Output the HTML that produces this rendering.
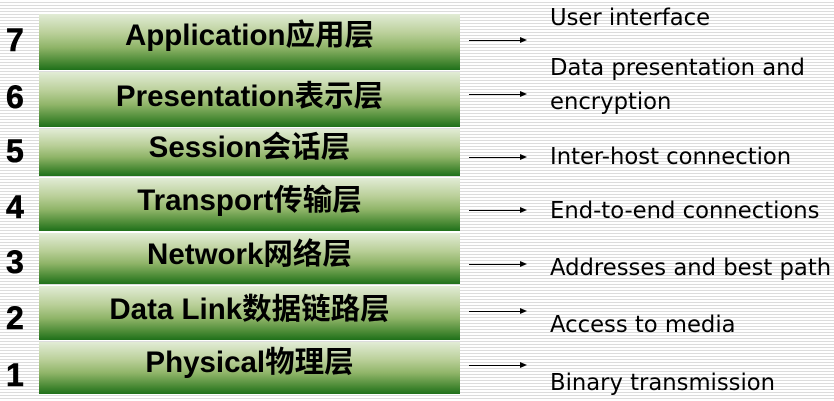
<!DOCTYPE html>
<html><head><meta charset="utf-8"><style>
body{margin:0;width:834px;height:401px;overflow:hidden;position:relative;
background:repeating-linear-gradient(to bottom,#fff 0px,#fff 2px,#dcdcdc 2px,#dcdcdc 3px);
font-family:"Liberation Sans","Noto Sans CJK SC",sans-serif;}
.box{position:absolute;left:39px;width:421px;
background:linear-gradient(to bottom,#e2ecd6 0%,#b9cf98 35%,#8fb468 60%,#4a8a35 85%,#1f701a 100%);
text-align:center;font-weight:bold;font-size:29.5px;line-height:34px;color:#000;}
.box span{position:relative;top:5px;display:block;}
.n{position:absolute;left:6px;font-weight:bold;font-size:32px;line-height:32px;-webkit-text-stroke:0.6px #000;}
.a{position:absolute;left:469px;width:52px;height:1px;background:#000;}
.a:after{content:"";position:absolute;right:-6px;top:-3px;border-left:7px solid #000;border-top:3.5px solid transparent;border-bottom:3.5px solid transparent;}
.t{position:absolute;left:550px;font-family:"DejaVu Sans",sans-serif;font-size:22.7px;line-height:24px;white-space:nowrap;}
</style></head><body>
<div class="box" style="top:14px;height:56px"><span>Application应用层</span></div>
<div class="box" style="top:72px;height:55px"><span style="top:8px">Presentation表示层</span></div>
<div class="box" style="top:129px;height:47px"><span style="top:2px">Session会话层</span></div>
<div class="box" style="top:178px;height:53px"><span style="top:6px">Transport传输层</span></div>
<div class="box" style="top:233px;height:51px"><span style="top:5px">Network网络层</span></div>
<div class="box" style="top:286px;height:54px"><span style="top:7px">Data Link数据链路层</span></div>
<div class="box" style="top:342px;height:52px"><span style="top:4px">Physical物理层</span></div>

<div class="n" style="top:24px">7</div>
<div class="n" style="top:81px">6</div>
<div class="n" style="top:135px">5</div>
<div class="n" style="top:191px">4</div>
<div class="n" style="top:246px">3</div>
<div class="n" style="top:302px">2</div>
<div class="n" style="top:359px">1</div>

<div class="a" style="top:40px"></div>
<div class="a" style="top:94px"></div>
<div class="a" style="top:157px"></div>
<div class="a" style="top:210px"></div>
<div class="a" style="top:264px"></div>
<div class="a" style="top:311px"></div>
<div class="a" style="top:365px"></div>

<div class="t" style="top:6px">User interface</div>
<div class="t" style="top:56px">Data presentation and</div>
<div class="t" style="top:90px">encryption</div>
<div class="t" style="top:145px">Inter-host connection</div>
<div class="t" style="top:199px">End-to-end connections</div>
<div class="t" style="top:256px">Addresses and best path</div>
<div class="t" style="top:313px">Access to media</div>
<div class="t" style="top:371px">Binary transmission</div>
</body></html>
